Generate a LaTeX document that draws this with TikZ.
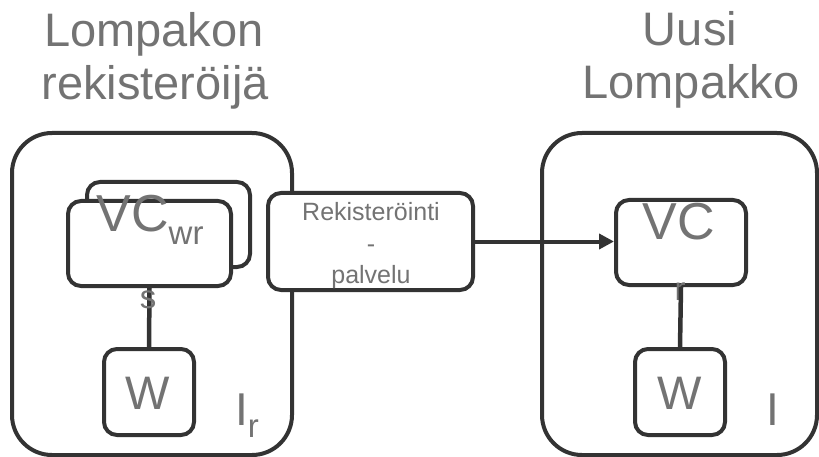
\documentclass[tikz,border=0pt]{standalone}
\usepackage{fontspec}
\setmainfont{Liberation Sans}
\usetikzlibrary{arrows.meta}
\definecolor{linec}{HTML}{333333}
\definecolor{txtc}{HTML}{737373}
\tikzset{
  outerbox/.style={draw=linec, line width=4pt, fill=white, rounded corners=40pt, inner sep=0pt},
  innerbox/.style={draw=linec, line width=4pt, fill=white, rounded corners=13pt, inner sep=0pt},
  lbl/.style={text=txtc, inner sep=0pt, anchor=base},
  bigtxt/.style={lbl, font=\fontsize{47}{53}\selectfont},
  vctxt/.style={lbl, font=\fontsize{52}{52}\selectfont},
  subtxt/.style={lbl, font=\fontsize{33}{33}\selectfont},
  midtxt/.style={lbl, font=\fontsize{25}{31}\selectfont},
  conn/.style={draw=linec, line width=4.5pt},
}
\begin{document}
\begin{tikzpicture}[x=1pt, y=-1pt]
\useasboundingbox (0,0) rectangle (819,457);
% outer boxes
\node[outerbox, minimum width=280pt, minimum height=322pt] (lout) at (152,294) {};
\node[outerbox, minimum width=275pt, minimum height=322pt] (rout) at (679.5,294) {};
% left VC boxes
\node[innerbox, minimum width=163pt, minimum height=85pt] (lvcback) at (168.5,224.5) {};
\node[innerbox, minimum width=163pt, minimum height=85pt] (lvc) at (149.5,243.5) {};
\node[innerbox, minimum width=90pt, minimum height=86pt] (lw) at (149,392) {};
% middle box
\node[innerbox, minimum width=205pt, minimum height=97pt] (mid) at (370.5,241.5) {};
% right boxes
\node[innerbox, minimum width=130pt, minimum height=85pt] (rvc) at (681,242.5) {};
\node[innerbox, minimum width=90pt, minimum height=86pt] (rw) at (680,392) {};
% connectors
\draw[conn] (lvc.south) -- (lw.north);
\node[subtxt] (rsub) at (680,300) {r};
\draw[conn] (rvc.south) -- (rw.north);
\draw[conn, line width=4pt, -{Triangle[length=15pt,width=15pt]}] (mid.east) -- (mid.east -| rvc.west);
% titles
\node[bigtxt] (t1a) at (154,47) {Lompakon};
\node[bigtxt] (t1b) at (155,100) {rekisteröijä};
\node[bigtxt] (t2a) at (690,46) {Uusi};
\node[bigtxt] (t2b) at (691,99) {Lompakko};
% box texts
\node[vctxt] (lvctxt) at (150,232) {VC\raisebox{-13pt}{\fontsize{33}{33}\selectfont wr}};
\node[subtxt] (lsub) at (148,308) {s};
\node[vctxt] (rvctxt) at (679,240) {VC};
\node[bigtxt] (lwtxt) at (148,409) {W};
\node[bigtxt] (rwtxt) at (680,409) {W};
\node[midtxt] (m1) at (371,221) {Rekisteröinti};
\node[midtxt] (m2) at (371,252) {-};
\node[midtxt] (m3) at (371,283) {palvelu};
\node[lbl, anchor=base west, font=\fontsize{46}{46}\selectfont] (lI) at (235,425) {I\raisebox{-12pt}{\fontsize{33}{33}\selectfont r}};
\node[lbl, anchor=base west, font=\fontsize{46}{46}\selectfont] (rI) at (766,425) {I};
\end{tikzpicture}
\end{document}
